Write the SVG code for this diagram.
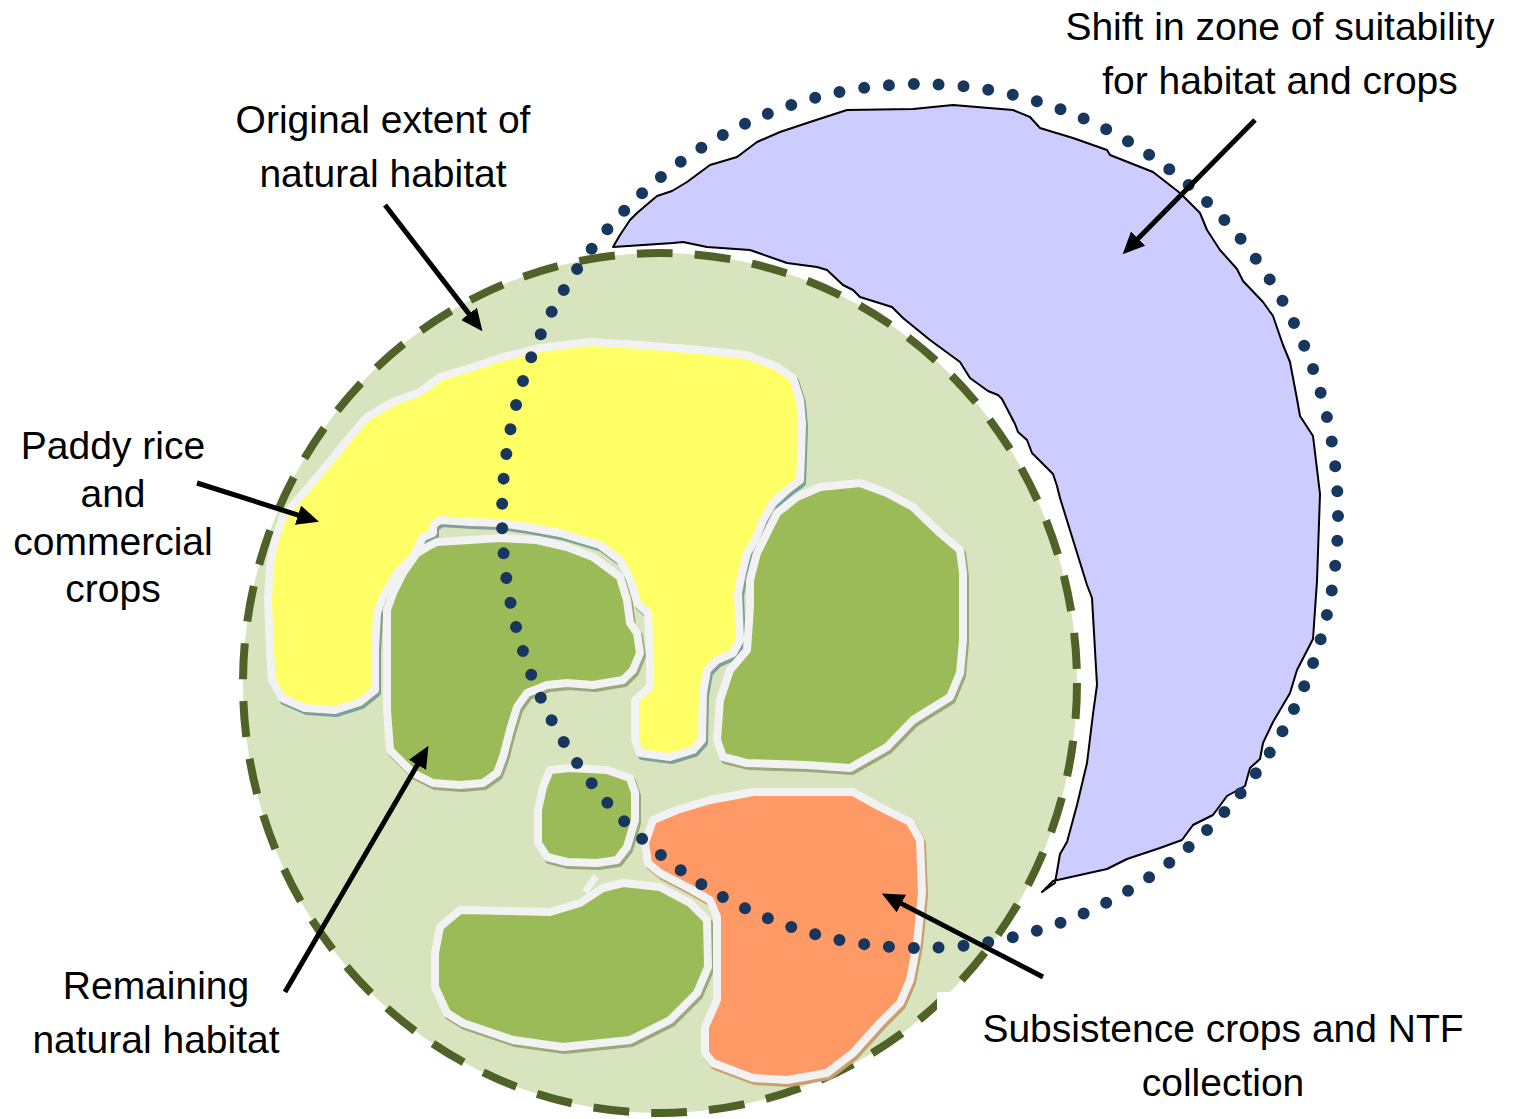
<svg xmlns="http://www.w3.org/2000/svg" xmlns:xlink="http://www.w3.org/1999/xlink" width="1515" height="1119" viewBox="0 0 1515 1119">
<style>
.lbl{font-family:"Liberation Sans",Arial,sans-serif;font-size:39px;fill:#000;text-anchor:middle}
.patch{stroke:#F2F2F2;stroke-width:8;stroke-linejoin:round}
.shadow{stroke-width:8;stroke-linejoin:round}
.arrow{stroke:#000;stroke-width:5;fill:none;marker-end:url(#head)}
</style>
<defs>
<marker id="head" viewBox="0 0 22 20" refX="1" refY="10" markerWidth="22" markerHeight="20" markerUnits="userSpaceOnUse" orient="auto">
<path d="M0,0 L22,10 L0,20 z" fill="#000"/>
</marker>
<path id="pYellow" d="M282,698 L272,680 270,650 268,600 270,565 275,540 283,517 300,497 317,477 333,458 347,440 367,417 393,402 420,392 440,377 473,367 503,357 540,348 590,342 640,345 700,350 747,355 777,367 793,378 800,400 802,423 801,455 800,480 787,490 773,503 763,520 755,540 747,553 742,573 738,593 740,640 733,653 717,660 707,670 703,693 702,740 693,750 670,757 640,753 635,740 635,700 643,693 650,687 650,660 648,613 637,603 633,587 627,573 620,560 600,545 560,533 527,527 500,523 470,522 440,520 433,525 433,533 423,537 413,557 397,573 383,597 377,613 375,650 375,690 360,702 335,710 305,708 Z"/>
<path id="pGreenL" d="M437,542 L470,540 500,538 537,540 567,547 593,557 620,577 627,600 630,623 637,633 640,653 633,670 623,680 593,685 567,683 547,685 527,693 517,707 510,730 503,757 497,773 483,783 460,785 433,783 413,773 400,760 390,750 387,710 387,643 387,610 393,593 403,573 417,553 427,547 Z"/>
<path id="pGreenR" d="M820,487 L860,483 887,493 913,507 940,533 960,550 963,573 963,640 960,673 950,697 913,720 887,747 850,768 807,765 747,763 723,757 717,740 720,700 730,670 747,650 750,607 750,580 757,553 767,533 777,513 797,497 Z"/>
<path id="pGreenS" d="M550,770 L570,768 607,770 630,778 635,793 635,820 627,847 617,860 597,863 567,862 547,857 538,843 538,810 543,787 Z"/>
<path id="pGreenB" d="M460,910 L550,912 580,903 603,888 623,883 660,887 690,903 707,920 708,967 697,993 670,1020 630,1040 563,1047 513,1040 463,1023 447,1013 435,987 435,953 440,927 Z"/>
<path id="pOrange" d="M653,820 L677,810 710,800 753,792 853,792 880,807 910,822 920,840 922,893 917,943 910,980 900,1003 880,1023 853,1053 827,1073 787,1080 753,1078 713,1063 705,1053 705,1027 717,1000 717,960 717,917 710,900 687,887 660,873 648,863 645,843 Z"/>
</defs>
<rect width="1515" height="1119" fill="#FFFFFF"/>
<g id="original-extent">
<ellipse cx="660" cy="683" rx="417" ry="430" fill="#D7E4BD" stroke="#4F6228" stroke-width="8" stroke-dasharray="36 22"/>
</g>
<g id="shifted-zone">
<path d="M613,247 L620,235 630,220 637,213 657,196 672,191 687,182 710,165 737,157 757,142 780,132 810,122 847,110 913,109 953,105 1013,110 1030,117 1040,128 1053,132 1073,138 1107,150 1110,155 1153,172 1180,193 1200,213 1207,230 1220,250 1237,269 1243,281 1263,302 1273,316 1283,345 1290,362 1297,399 1300,416 1313,436 1320,494 1317,581 1313,639 1297,670 1290,693 1283,705 1273,722 1263,743 1260,759 1250,768 1245,786 1227,796 1213,815 1193,825 1182,840 1160,848 1127,859 1107,869 1053,881 1042,892 1055,883 1060,854 1067,842 1077,805 1087,763 1093,714 1097,685 1092,598 1087,585 1060,498 1057,486 1053,474 1032,453 1027,440 1018,432 1015,424 1002,399 998,395 988,391 970,378 965,370 960,362 930,340 903,318 892,307 860,297 853,290 843,285 827,270 817,267 787,263 750,250 707,247 683,242 673,243 Z" fill="#CCCCFF" stroke="#000" stroke-width="2" stroke-linejoin="round"/>
</g>
<g id="paddy-rice">
<use xlink:href="#pYellow" href="#pYellow" class="shadow" fill="#7F9F9A" stroke="#7F9F9A" transform="translate(2,3)"/>
<use xlink:href="#pYellow" href="#pYellow" class="patch" fill="#FFFF66"/>
</g>
<g id="habitat-left">
<use xlink:href="#pGreenL" href="#pGreenL" class="shadow" fill="#9AA87E" stroke="#9AA87E" transform="translate(2,3)"/>
<use xlink:href="#pGreenL" href="#pGreenL" class="patch" fill="#9BBB59"/>
</g>
<g id="habitat-right">
<use xlink:href="#pGreenR" href="#pGreenR" class="shadow" fill="#9AA87E" stroke="#9AA87E" transform="translate(2,3)"/>
<use xlink:href="#pGreenR" href="#pGreenR" class="patch" fill="#9BBB59"/>
</g>
<g id="habitat-small">
<use xlink:href="#pGreenS" href="#pGreenS" class="shadow" fill="#9AA87E" stroke="#9AA87E" transform="translate(2,3)"/>
<use xlink:href="#pGreenS" href="#pGreenS" class="patch" fill="#9BBB59"/>
</g>
<g id="habitat-bottom">
<use xlink:href="#pGreenB" href="#pGreenB" class="shadow" fill="#9AA87E" stroke="#9AA87E" transform="translate(2,3)"/>
<use xlink:href="#pGreenB" href="#pGreenB" class="patch" fill="#9BBB59"/>
<path d="M585,892 L596,876" stroke="#F2F2F2" stroke-width="7" fill="none"/>
</g>
<g id="subsistence">
<use xlink:href="#pOrange" href="#pOrange" class="shadow" fill="#C8A070" stroke="#C8A070" transform="translate(2,3)"/>
<use xlink:href="#pOrange" href="#pOrange" class="patch" fill="#FF9966"/>
</g>
<g id="suitability-zone">
<ellipse cx="920" cy="516" rx="418" ry="432" fill="none" stroke="#17375E" stroke-width="12" stroke-linecap="round" pathLength="1070" stroke-dasharray="0 10"/>
</g>
<rect x="937" y="992" width="578" height="127" fill="#FFFFFF"/>
<g id="connectors">
<line class="arrow" x1="385" y1="205" x2="469.6" y2="314.6"/>
<line class="arrow" x1="1255" y1="120" x2="1137.4" y2="239.3"/>
<line class="arrow" x1="197" y1="483" x2="299" y2="515.4"/>
<line class="arrow" x1="285" y1="992" x2="417.9" y2="764"/>
<line class="arrow" x1="1043" y1="977" x2="900.5" y2="903.1"/>
</g>
<g id="label-original">
<text class="lbl" x="383" y="133">Original extent of</text>
<text class="lbl" x="383" y="187">natural habitat</text>
</g>
<g id="label-shift">
<text class="lbl" x="1280" y="40">Shift in zone of suitability</text>
<text class="lbl" x="1280" y="94">for habitat and crops</text>
</g>
<g id="label-paddy">
<text class="lbl" x="113" y="459">Paddy rice</text>
<text class="lbl" x="113" y="507">and</text>
<text class="lbl" x="113" y="555">commercial</text>
<text class="lbl" x="113" y="602">crops</text>
</g>
<g id="label-remaining">
<text class="lbl" x="156" y="999">Remaining</text>
<text class="lbl" x="156" y="1053">natural habitat</text>
</g>
<g id="label-subsistence">
<text class="lbl" x="1223" y="1042">Subsistence crops and NTF</text>
<text class="lbl" x="1223" y="1096">collection</text>
</g>
</svg>
